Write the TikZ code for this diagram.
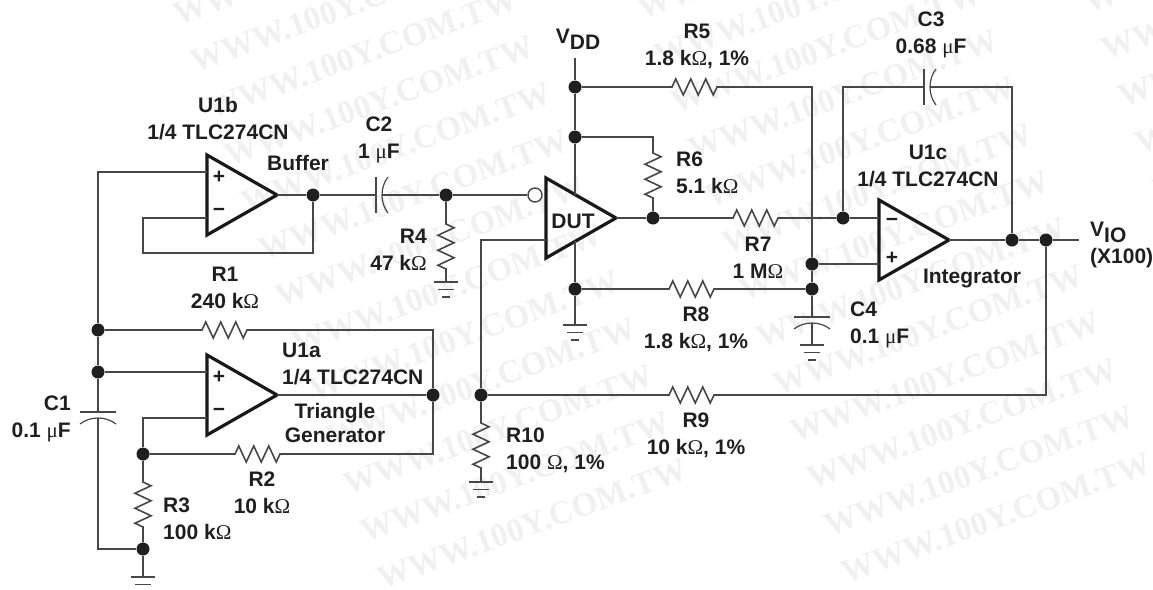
\documentclass[tikz,border=0pt]{standalone}
\usepackage{fontspec}
\setmainfont{Liberation Sans}
\newfontfamily\symfont{Liberation Serif}
\usetikzlibrary{decorations.pathmorphing, shapes.geometric}
\newcommand{\kohm}{k{\symfont\mdseries Ω}}
\newcommand{\mfd}{{\symfont\mdseries μ}F}
\begin{document}
\begin{tikzpicture}[
        x=1pt, y=-1pt,
        wire/.style={draw=black!72, line width=1.6pt},
        opamp/.style={isosceles triangle, isosceles triangle stretches, shape border rotate=0, draw=black!90, line width=3.2pt, minimum width=80pt, minimum height=70pt, inner sep=0pt, outer sep=0pt, anchor=apex},
        dot/.style={circle, fill=black!88, inner sep=0pt, minimum size=13pt},
        bubble/.style={circle, draw=black!72, line width=1.4pt, fill=white, inner sep=0pt, minimum size=14pt},
        lbl/.style={font=\bfseries\fontsize{21}{27}\selectfont, align=center, text=black!88, inner sep=0pt},
        wmark/.style={font=\symfont\bfseries\fontsize{33}{33}\selectfont, text=black!6, rotate=20},
        zz/.style={decoration={zigzag, segment length=15pt, amplitude=8pt}},
        gnd/.pic={\draw[wire] (-12,0) -- (12,0) (-8,7.5) -- (8,7.5) (-4,15) -- (4,15);},
        capv/.pic={\draw[wire] (-18,0) -- (18,0); \draw[wire, line width=1.2pt] (-18,12) .. controls (-8,4) and (8,4) .. (18,12);},
        caph/.pic={\draw[wire] (0,-18) -- (0,18); \draw[wire, line width=1.2pt] (12,-18) .. controls (4,-8) and (4,8) .. (12,18);}
    ]
        \useasboundingbox (0,0) rectangle (1153,589);

        % background marks
        \foreach \i/\dx/\dy in {0/0/0, 1/464/-6, 2/911/-12} {
            \foreach \k in {0,...,12} {
                \node[wmark] (wm\i\k) at ({328+\dx+\k*17},{-40+\dy+\k*47}) {WWW.100Y.COM.TW};
            }
        }

        % junctions
        \node[dot] (jA) at (98,330) {};
        \node[dot] (jB) at (98,372) {};
        \node[dot] (jC) at (313,195) {};
        \node[dot] (jD) at (433,395) {};
        \node[dot] (jE) at (143,454) {};
        \node[dot] (jF) at (143,549) {};
        \node[dot] (jG) at (446,195) {};
        \node[dot] (jH) at (481,395) {};
        \node[dot] (jI) at (575,87) {};
        \node[dot] (jJ) at (575,137) {};
        \node[dot] (jK) at (575,289) {};
        \node[dot] (jL) at (653,218) {};
        \node[dot] (jM) at (843,218) {};
        \node[dot] (jN) at (812,264) {};
        \node[dot] (jO) at (812,289) {};
        \node[dot] (jP) at (1012,240) {};
        \node[dot] (jQ) at (1046,240) {};

        % amplifiers
        \node[opamp] (U1b) at (277,195) {};
        \node[opamp] (U1a) at (277,395) {};
        \node[opamp] (DUT) at (616,218) {};
        \node[opamp] (U1c) at (949,240) {};
        \node[bubble] (bub) at (535,195) {};

        % pins and corners
        \coordinate (U1bp) at (207,172);
        \coordinate (U1bm) at (207,218);
        \coordinate (fb) at (143,253);
        \coordinate (U1ap) at (207,372);
        \coordinate (U1am) at (207,418);
        \coordinate (DUTt) at (575,195);
        \coordinate (DUTb) at (575,241);
        \coordinate (DUTi) at (546,240);
        \coordinate (corn) at (481,240);
        \coordinate (U1cm) at (879,218);
        \coordinate (U1cp) at (879,264);
        \coordinate (vdd) at (575,58);
        \coordinate (vio) at (1079,240);

        % resistor ends
        \coordinate (r1a) at (202,330);
        \coordinate (r1b) at (247,330);
        \coordinate (r1c) at (433,330);
        \coordinate (r2a) at (235,454);
        \coordinate (r2b) at (280,454);
        \coordinate (r2c) at (433,454);
        \coordinate (r3a) at (143,482);
        \coordinate (r3b) at (143,527);
        \coordinate (r4a) at (446,224);
        \coordinate (r4b) at (446,269);
        \coordinate (r5a) at (672,87);
        \coordinate (r5b) at (717,87);
        \coordinate (r5c) at (812,87);
        \coordinate (r6a) at (653,153);
        \coordinate (r6b) at (653,198);
        \coordinate (r7a) at (733,218);
        \coordinate (r7b) at (778,218);
        \coordinate (r8a) at (669,289);
        \coordinate (r8b) at (714,289);
        \coordinate (r9a) at (669,395);
        \coordinate (r9b) at (714,395);
        \coordinate (r9c) at (1046,395);
        \coordinate (r10a) at (481,423);
        \coordinate (r10b) at (481,468);

        % capacitor ends
        \coordinate (c1a) at (98,412);
        \coordinate (c1b) at (98,418);
        \coordinate (c1c) at (98,549);
        \coordinate (c2a) at (376,195);
        \coordinate (c2b) at (382,195);
        \coordinate (c3a) at (924,87);
        \coordinate (c3b) at (930,87);
        \coordinate (c3l) at (843,87);
        \coordinate (c3r) at (1012,87);
        \coordinate (c4a) at (812,317);
        \coordinate (c4b) at (812,323);

        % grounds
        \coordinate (g3) at (143,577);
        \coordinate (g4) at (446,282);
        \coordinate (g8) at (575,325);
        \coordinate (gc) at (812,345);
        \coordinate (g10) at (481,482);
        \pic at (g3) {gnd};
        \pic at (g4) {gnd};
        \pic at (g8) {gnd};
        \pic at (gc) {gnd};
        \pic at (g10) {gnd};
        \pic at (c1a) {capv};
        \pic at (c4a) {capv};
        \pic at (c2a) {caph};
        \pic at (c3a) {caph};

        % left half
        \draw[wire] (jA) |- (U1bp);
        \draw[wire] (U1bm) -| (fb) -| (jC);
        \draw[wire] (U1b.apex) -- (jC);
        \draw[wire] (jC) -- (c2a);
        \draw[wire] (c2b) -- (jG);
        \draw[wire] (jG) -- (bub);
        \draw[wire] (jA) -- (jB);
        \draw[wire] (jB) -- (U1ap);
        \draw[wire] (jB) -- (c1a);
        \draw[wire] (c1b) -- (c1c) -- (jF);
        \draw[wire] (U1a.apex) -- (jD);
        \draw[wire] (U1am) -| (jE);
        \draw[wire] (jA) -- (r1a) decorate[zz] {-- (r1b)} -- (r1c) -- (jD);
        \draw[wire] (jE) -- (r2a) decorate[zz] {-- (r2b)} -- (r2c) -- (jD);
        \draw[wire] (jE) -- (r3a) decorate[zz] {-- (r3b)} -- (jF);
        \draw[wire] (jF) -- (g3);
        \draw[wire] (jG) -- (r4a) decorate[zz] {-- (r4b)} -- (g4);

        % right half
        \draw[wire] (vdd) -- (jI);
        \draw[wire] (jI) -- (jJ);
        \draw[wire] (jJ) -- (DUTt);
        \draw[wire] (DUTb) -- (jK);
        \draw[wire] (jK) -- (g8);
        \draw[wire] (DUT.apex) -- (jL);
        \draw[wire] (jI) -- (r5a) decorate[zz] {-- (r5b)} -- (r5c) -- (jN);
        \draw[wire] (jJ) -| (r6a) decorate[zz] {-- (r6b)} -- (jL);
        \draw[wire] (jL) -- (r7a) decorate[zz] {-- (r7b)} -- (jM);
        \draw[wire] (jK) -- (r8a) decorate[zz] {-- (r8b)} -- (jO);
        \draw[wire] (jN) -- (jO);
        \draw[wire] (jO) -- (c4a);
        \draw[wire] (c4b) -- (gc);
        \draw[wire] (jM) -- (U1cm);
        \draw[wire] (jN) -- (U1cp);
        \draw[wire] (jM) -- (c3l) -- (c3a);
        \draw[wire] (c3b) -- (c3r) -- (jP);
        \draw[wire] (U1c.apex) -- (jP);
        \draw[wire] (jP) -- (jQ);
        \draw[wire] (jQ) -- (vio);
        \draw[wire] (jH) -- (r9a) decorate[zz] {-- (r9b)} -- (r9c) -- (jQ);
        \draw[wire] (jH) -- (corn) -- (DUTi);
        \draw[wire] (jH) -- (r10a) decorate[zz] {-- (r10b)} -- (g10);

        % signs
        \node[lbl] (pb) at (219,177) {+};
        \node[lbl] (mb) at (219,212) {−};
        \node[lbl] (pa) at (219,377) {+};
        \node[lbl] (ma) at (219,412) {−};
        \node[lbl] (mc) at (892,222) {−};
        \node[lbl] (pc) at (892,258) {+};

        % labels
        \node[lbl] (tU1b) at (218,119) {U1b\\1/4 TLC274CN};
        \node[lbl] (tBuf) at (298,163) {Buffer};
        \node[lbl] (tC2) at (379,140) {C2\\1 \mfd};
        \node[lbl, anchor=east, align=right] (tR4) at (427,250) {R4\\47 \kohm};
        \node[lbl] (tR1) at (225,288) {R1\\240 \kohm};
        \node[lbl, anchor=west, align=left] (tU1a) at (282,364) {U1a\\1/4 TLC274CN};
        \node[lbl] (tGen) at (335,423) {Triangle\\[-3pt]Generator};
        \node[lbl, anchor=east, align=right] (tC1) at (71,419) {C1\\0.1 \mfd};
        \node[lbl] (tR2) at (262,493) {R2\\10 \kohm};
        \node[lbl, anchor=west, align=left] (tR3) at (163,519) {R3\\100 \kohm};
        \node[lbl] (tVdd) at (578,39) {V\raisebox{-6pt}{DD}};
        \node[lbl] (tR5) at (697,46) {R5\\1.8 \kohm, 1\%};
        \node[lbl, anchor=west, align=left] (tR6) at (676,173) {R6\\5.1 \kohm};
        \node[lbl] (tDUT) at (573,221) {DUT};
        \node[lbl] (tR7) at (758,258) {R7\\1 M{\symfont\mdseries Ω}};
        \node[lbl] (tR8) at (696,329) {R8\\1.8 \kohm, 1\%};
        \node[lbl, anchor=west, align=left] (tC4) at (850,325) {C4\\0.1 \mfd};
        \node[lbl] (tR9) at (696,435) {R9\\10 \kohm, 1\%};
        \node[lbl, anchor=west, align=left] (tR10) at (506,450) {R10\\100 {\symfont\mdseries Ω}, 1\%};
        \node[lbl] (tC3) at (931,35) {C3\\0.68 \mfd};
        \node[lbl] (tU1c) at (928,166) {U1c\\1/4 TLC274CN};
        \node[lbl] (tInt) at (972,278) {Integrator};
        \node[lbl, anchor=west, align=left] (tVio) at (1090,245) {V\raisebox{-6pt}{IO}\\(X100)};
    \end{tikzpicture}
\end{document}
